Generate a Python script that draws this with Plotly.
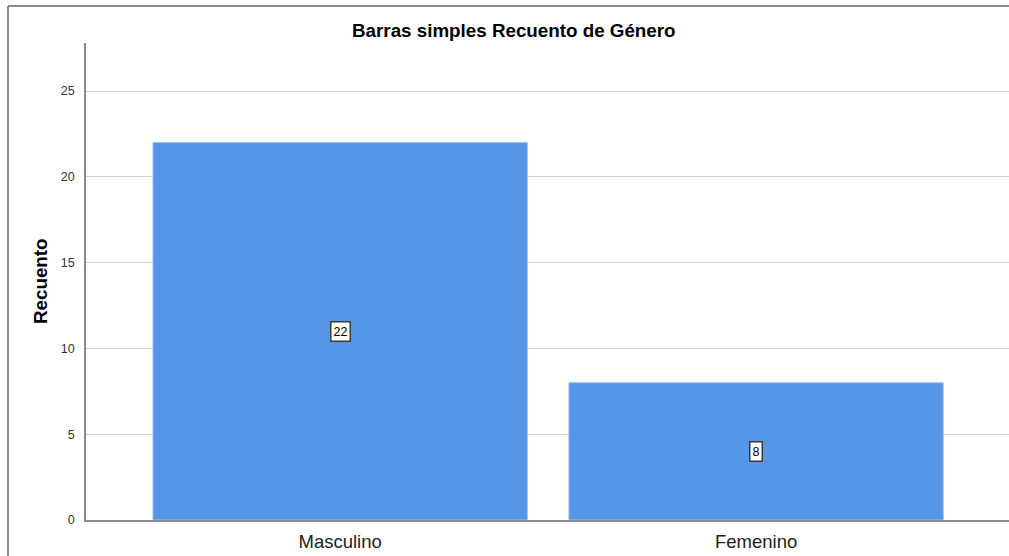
import plotly.graph_objects as go

categories = ["Masculino", "Femenino"]
counts = [22, 8]
y_ticks = [0, 5, 10, 15, 20, 25]

W, H = 1009, 556
L, R, T, B = 86, 0, 43, 36
pw, ph = W - L - R, H - T - B

FONT = "Liberation Sans, Arial, sans-serif"

fig = go.Figure()
fig.add_trace(go.Bar(
    x=[0, 1], y=counts, width=0.9,
    marker=dict(color="#5596e6", line=dict(color="#9cc2f2", width=1)),
    hoverinfo="skip", showlegend=False,
))

annotations = []
for i, v in enumerate(counts):
    annotations.append(dict(
        x=i, y=v / 2, xref="x", yref="y", text=str(v), showarrow=False,
        font=dict(family=FONT, size=12.5, color="#000"),
        bgcolor="white", bordercolor="#3a3a3a", borderwidth=1.5, borderpad=2,
    ))

annotations.append(dict(
    x=(514 - L) / pw, y=1 + (T - 30) / ph, xref="paper", yref="paper",
    text="<b>Barras simples Recuento de Género</b>", showarrow=False,
    font=dict(family=FONT, size=18.8, color="#000"), xanchor="center", yanchor="middle",
))
annotations.append(dict(
    x=(40 - L) / pw, y=(H - B - 281) / ph, xref="paper", yref="paper",
    text="<b>Recuento</b>", showarrow=False, textangle=-90,
    font=dict(family=FONT, size=18.8, color="#000"), xanchor="center", yanchor="middle",
))

shapes = [
    dict(type="line", xref="paper", yref="paper",
         x0=(8 - L) / pw, x1=1.01, y0=1 + (T - 6) / ph, y1=1 + (T - 6) / ph,
         line=dict(color="#8a8a8a", width=2)),
    dict(type="line", xref="paper", yref="paper",
         x0=(8 - L) / pw, x1=(8 - L) / pw, y0=-0.2, y1=1 + (T - 6) / ph,
         line=dict(color="#8a8a8a", width=2)),
]

fig.update_layout(
    width=W, height=H,
    margin=dict(l=L, r=R, t=T, b=B, pad=0),
    paper_bgcolor="white", plot_bgcolor="white",
    annotations=annotations, shapes=shapes,
    bargap=0.1,
    xaxis=dict(
        range=[-0.611, 1.608], tickmode="array", tickvals=[0, 1], ticktext=categories,
        showgrid=False, zeroline=False, showline=True, linecolor="#8a8a8a", linewidth=1.5,
        ticks="", tickfont=dict(family=FONT, size=18.5, color="#222"), ticklabelstandoff=4,
    ),
    yaxis=dict(
        range=[0, 27.8], tickmode="array", tickvals=y_ticks,
        showgrid=True, gridcolor="#d2d2d2", gridwidth=1, zeroline=False,
        showline=True, linecolor="#8a8a8a", linewidth=1.5,
        ticks="", tickfont=dict(family=FONT, size=12.5, color="#333"), ticklabelstandoff=7,
    ),
)

fig.write_html(
    "out.html",
    config={"displayModeBar": False},
    post_script="document.body.style.margin='0';document.body.style.overflow='hidden';",
)
